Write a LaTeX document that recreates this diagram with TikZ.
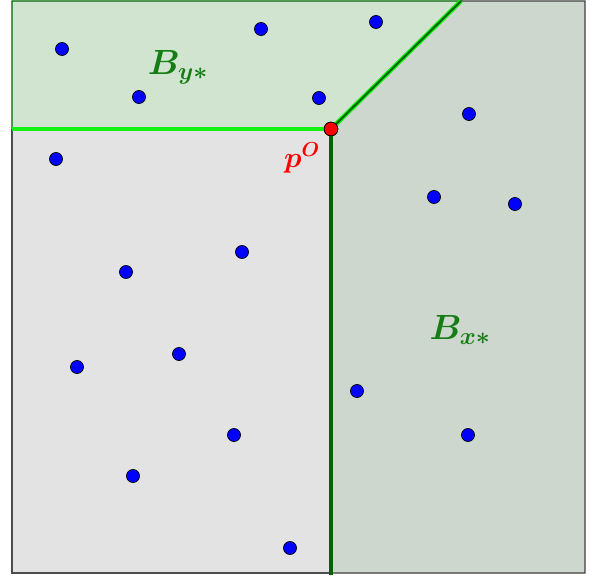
\documentclass[tikz,border=0pt]{standalone}
\usepackage{tikz}
\usetikzlibrary{positioning}
\usepackage{xcolor}
\definecolor{lgreen}{RGB}{208,228,208}
\definecolor{ggreen}{RGB}{205,215,205}
\definecolor{lgray}{RGB}{227,227,227}
\definecolor{bgreen}{RGB}{20,240,20}
\definecolor{dgreen}{RGB}{0,100,0}
\definecolor{lblgreen}{RGB}{20,125,20}

\begin{document}
\begin{tikzpicture}[x=0.025cm,y=-0.025cm,
  region/.style={draw,line width=0.9pt},
  site/.style={circle,draw=black,fill=blue,inner sep=0pt,minimum size=9.3pt,line width=0.5pt},
  origin/.style={circle,draw=black,fill=red,inner sep=0pt,minimum size=9.8pt,line width=0.5pt},
  lbl/.style={font=\fontsize{27}{30}\selectfont\boldmath,text=lblgreen}
]
\useasboundingbox (0,0) rectangle (593,577);
% regions
\fill[lgray] (12,129) rectangle (331,573);
\draw[region,draw=black!70] (331,573) -- (12,573) -- (12,129);
\filldraw[region,fill=lgreen,draw=dgreen] (12,129) -- (12,1) -- (461,1) -- (331,129) -- cycle;
\filldraw[region,fill=ggreen,draw=black!75] (461,1) -- (585,1) -- (585,573) -- (331,573) -- (331,129) -- cycle;
% vertex
\node[origin] (pO) at (331,129) {};
\coordinate (lft) at (12,129);
\coordinate (top) at (461,1);
\coordinate (bot) at (331,575);
% boundaries
\draw[bgreen,line width=3.2pt] (lft) -- (pO.center);
\draw[bgreen,line width=3.2pt] (pO.center) -- (top);
\draw[dgreen,line width=1.4pt] (pO.center) -- (top);
\draw[dgreen,line width=3.2pt] (pO.center) -- (bot);
\node[origin] at (pO) {};
\node[text=red,font=\fontsize{20}{24}\selectfont\boldmath] (pOlbl) at (302,158) {$p^O$};
% labels
\node[lbl] (By) at (178,67) {$B_{y*}$};
\node[lbl] (Bx) at (460,330) {$B_{x*}$};
% sites
\foreach \x/\y [count=\i] in {62/49, 139/97, 261/29, 376/22, 319/98, 469/114, 56/159,
  434/197, 515/204, 242/252, 126/272, 179/354, 77/367, 357/391, 234/435, 468/435,
  133/476, 290/548}
  \node[site] (s\i) at (\x,\y) {};
\end{tikzpicture}
\end{document}
